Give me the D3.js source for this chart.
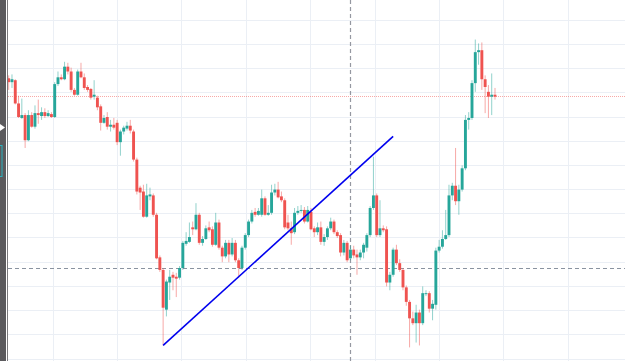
<!DOCTYPE html>
<html>
<head>
<meta charset="utf-8">
<script src="https://cdn.jsdelivr.net/npm/d3@7"></script>
<style>
  html, body { margin: 0; padding: 0; background: #fff; overflow: hidden; }
  svg { display: block; }
</style>
</head>
<body>
<svg id="chart" width="625" height="361"></svg>
<script>
// OHLC per bar (bar index = position in array)
const opens = [1790,1786,1788,1764,1749,1752,1726,1752,1740,1754,1751,1755,1751,1753,1750,1784,1791,1789,1802,1797,
  1778,1773,1797,1791,1781,1779,1771,1770,1761,1744,1750,1740,1742,1744,1724,1735,1738,1741,1735,1706,
  1677,1673,1647,1668,1669,1649,1605,1592,1551,1579,1587,1585,1584,1594,1619,1621,1636,1634,1649,1620,
  1624,1636,1634,1618,1641,1615,1606,1620,1608,1620,1602,1594,1615,1628,1642,1652,1649,1649,1666,1649,
  1651,1672,1675,1668,1664,1641,1635,1631,1651,1653,1654,1642,1652,1635,1631,1636,1621,1626,1635,1642,
  1631,1628,1610,1620,1604,1613,1608,1605,1610,1615,1628,1656,1669,1628,1635,1634,1579,1587,1613,1599,
  1592,1574,1559,1542,1537,1548,1537,1567,1568,1552,1556,1612,1616,1624,1628,1669,1679,1663,1675,1697,
  1747,1749,1785,1817,1819,1789,1776,1771,1773];
const highs = [1793,1794,1789,1772,1769,1754,1757,1755,1762,1768,1760,1759,1757,1755,1786,1797,1794,1807,1806,1801,
  1780,1799,1806,1795,1783,1780,1788,1772,1763,1752,1755,1747,1749,1747,1737,1741,1745,1747,1737,1708,
  1679,1680,1681,1677,1671,1651,1607,1594,1582,1592,1590,1589,1596,1622,1631,1641,1642,1661,1651,1627,
  1638,1642,1637,1651,1644,1617,1623,1623,1625,1623,1604,1617,1630,1644,1654,1656,1656,1675,1668,1659,
  1680,1681,1683,1673,1666,1649,1642,1656,1658,1659,1657,1658,1656,1637,1641,1642,1629,1637,1646,1644,
  1633,1630,1623,1622,1617,1617,1613,1613,1620,1630,1658,1709,1671,1664,1638,1637,1590,1615,1618,1603,
  1594,1576,1561,1549,1556,1551,1575,1571,1570,1561,1615,1623,1633,1654,1680,1682,1718,1680,1700,1752,
  1755,1788,1830,1826,1827,1793,1783,1795,1780];
const lows = [1778,1780,1763,1749,1748,1718,1725,1739,1738,1743,1747,1749,1750,1749,1749,1782,1788,1788,1794,1776,
  1772,1772,1790,1778,1776,1768,1768,1757,1736,1743,1737,1735,1737,1721,1710,1732,1736,1733,1704,1670,
  1654,1646,1646,1664,1647,1603,1590,1514,1544,1561,1571,1564,1582,1592,1617,1620,1628,1633,1618,1617,
  1623,1631,1616,1617,1613,1600,1604,1600,1606,1600,1584,1592,1613,1626,1640,1647,1648,1647,1648,1648,
  1649,1669,1666,1662,1634,1633,1618,1629,1649,1651,1640,1641,1633,1626,1628,1618,1617,1623,1633,1629,
  1625,1606,1607,1600,1602,1604,1587,1602,1604,1611,1626,1654,1626,1626,1631,1575,1571,1585,1597,1590,
  1571,1555,1512,1535,1517,1514,1535,1565,1548,1540,1551,1610,1614,1623,1626,1664,1659,1649,1673,1695,
  1737,1747,1776,1804,1778,1754,1749,1752,1768];
const closes = [1786,1789,1764,1750,1752,1726,1752,1740,1754,1752,1755,1751,1754,1750,1784,1791,1789,1802,1797,1778,
  1773,1797,1791,1780,1778,1770,1773,1760,1744,1749,1740,1742,1739,1724,1735,1739,1741,1736,1706,1673,
  1672,1647,1669,1670,1649,1604,1592,1553,1580,1585,1584,1583,1594,1620,1622,1626,1634,1649,1620,1624,
  1635,1633,1618,1641,1615,1606,1620,1608,1620,1602,1594,1615,1628,1642,1651,1649,1653,1666,1649,1651,
  1672,1675,1667,1664,1636,1635,1630,1651,1653,1654,1642,1654,1634,1631,1636,1621,1626,1635,1642,1631,
  1627,1610,1620,1602,1613,1607,1605,1610,1618,1628,1656,1669,1628,1635,1633,1579,1587,1613,1599,1592,
  1574,1559,1542,1537,1548,1537,1568,1568,1552,1557,1612,1616,1624,1628,1669,1679,1663,1675,1697,1747,
  1749,1785,1817,1819,1789,1781,1771,1773,1771];

// drawing tools: trend line [bar, price], crosshair position
const trendStart = [47, 1514];
const trendEnd = [117, 1730];
const cursorBar = 104;
const cursorPrice = 1594;

const W = 625, H = 361;
const upColor = "#26a69a", downColor = "#ef5350";

const svg = d3.select("#chart");

const x = d3.scaleLinear().domain([0, closes.length - 1]).range([8.7, 495]);
const y = d3.scaleLinear().domain([1500, 1850]).range([359, 20.2]);
const crisp = v => Math.round(v - 0.5) + 0.5;

svg.append("rect").attr("width", W).attr("height", H).attr("fill", "#fff");

// grid
const grid = svg.append("g");
grid.selectAll(".hg").data(d3.range(1500, 1851, 25)).enter().append("line")
    .attr("x1", 8).attr("x2", W)
    .attr("y1", d => crisp(y(d))).attr("y2", d => crisp(y(d)))
    .attr("stroke", "#ebeff5").attr("stroke-width", 1);
grid.selectAll(".vg").data(d3.range(13.5, 200, 19.6)).enter().append("line")
    .attr("x1", d => crisp(x(d))).attr("x2", d => crisp(x(d)))
    .attr("y1", 0).attr("y2", H)
    .attr("stroke", "#ebeff5").attr("stroke-width", 1);

// crosshair
svg.append("line")
    .attr("x1", crisp(x(cursorBar))).attr("x2", crisp(x(cursorBar)))
    .attr("y1", 0).attr("y2", H)
    .attr("stroke", "#9598a1").attr("stroke-width", 1.2).attr("stroke-dasharray", "4,3");
svg.append("line")
    .attr("x1", 8).attr("x2", W)
    .attr("y1", crisp(y(cursorPrice))).attr("y2", crisp(y(cursorPrice)))
    .attr("stroke", "#8a93a0").attr("stroke-width", 1).attr("stroke-dasharray", "4,3");

// last price line
const last = closes[closes.length - 1];
svg.append("line")
    .attr("x1", 8).attr("x2", W)
    .attr("y1", crisp(y(last))).attr("y2", crisp(y(last)))
    .attr("stroke", "#ef5350").attr("stroke-opacity", 0.5)
    .attr("stroke-width", 1).attr("stroke-dasharray", "1,1");

// candles
const bars = d3.range(closes.length);
const bw = 2.9;
const candles = svg.append("g");
candles.selectAll(".wick").data(bars).enter().append("line")
    .attr("x1", i => x(i)).attr("x2", i => x(i))
    .attr("y1", i => y(highs[i])).attr("y2", i => y(lows[i]))
    .attr("stroke", i => closes[i] >= opens[i] ? upColor : downColor)
    .attr("stroke-opacity", 0.5)
    .attr("stroke-width", 1);
candles.selectAll(".body").data(bars).enter().append("rect")
    .attr("x", i => x(i) - bw / 2)
    .attr("width", bw)
    .attr("y", i => y(Math.max(opens[i], closes[i])))
    .attr("height", i => Math.max(1, Math.abs(y(opens[i]) - y(closes[i]))))
    .attr("fill", i => closes[i] >= opens[i] ? upColor : downColor);

// trend line
svg.append("line")
    .attr("x1", x(trendStart[0])).attr("y1", y(trendStart[1]))
    .attr("x2", x(trendEnd[0])).attr("y2", y(trendEnd[1]))
    .attr("stroke", "#0000ee").attr("stroke-width", 1.6);

// left toolbar edge
svg.append("rect").attr("x", 0).attr("y", 0).attr("width", 6).attr("height", H).attr("fill", "#5b5a5d");
svg.append("rect").attr("x", 6).attr("y", 0).attr("width", 1).attr("height", H).attr("fill", "#ffffff");
svg.append("rect").attr("x", 7).attr("y", 0).attr("width", 1).attr("height", H).attr("fill", "#7a797c");
svg.append("path").attr("d", "M0,124 L5,127.5 L0,131 Z").attr("fill", "#ffffff");
svg.append("rect").attr("x", -4).attr("y", 145.5).attr("width", 6).attr("height", 31)
    .attr("fill", "none").attr("stroke", "#2bb3bf").attr("stroke-width", 1);
</script>
</body>
</html>
